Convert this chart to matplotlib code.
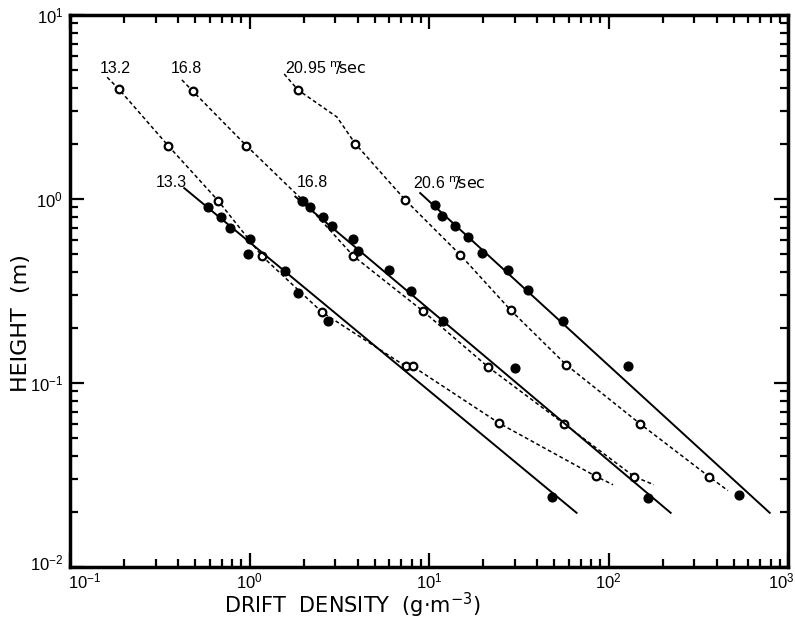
import numpy as np
import matplotlib.pyplot as plt
import matplotlib.transforms as mtransforms
from matplotlib.ticker import LogLocator, NullFormatter

plt.rcParams['font.family'] = ['Liberation Sans Narrow', 'Liberation Sans', 'DejaVu Sans']

# open circles + dashed curves
x_132 = [0.187, 0.352, 0.668, 1.18, 2.53, 7.43, 8.13, 24.7, 85.1]
y_132 = [3.96, 1.95, 0.98, 0.487, 0.243, 0.123, 0.123, 0.0603, 0.0311]
line_132_x = [0.161] + x_132 + [106]
line_132_y = [4.59] + y_132 + [0.028]

x_168o = [0.485, 0.96, 1.99, 3.79, 9.3, 21.4, 56.6, 139]
y_168o = [3.84, 1.95, 0.98, 0.49, 0.245, 0.122, 0.060, 0.031]
line_168o_x = [0.42] + x_168o + [179]
line_168o_y = [4.44] + y_168o + [0.028]

x_2095 = [1.86, 3.88, 7.36, 14.9, 28.6, 57.9, 150, 363]
y_2095 = [3.92, 2.0, 0.99, 0.498, 0.248, 0.126, 0.060, 0.031]
line_2095_x = [1.56, 1.86, 3.07] + x_2095[1:] + [463]
line_2095_y = [4.78, 3.92, 2.79] + y_2095[1:] + [0.026]

# filled circles + fitted straight lines
x_133 = [0.587, 0.696, 0.782, 1.0, 0.98, 1.58, 1.87, 2.75, 48.2]
y_133 = [0.91, 0.794, 0.70, 0.606, 0.503, 0.408, 0.310, 0.217, 0.0241]
fit_133_x = [0.433, 66.4]
fit_133_y = [1.146, 0.0197]

x_168f = [1.95, 2.18, 2.56, 2.88, 3.79, 4.04, 6.0, 7.92, 12.0, 30.0, 166]
y_168f = [0.98, 0.91, 0.803, 0.71, 0.608, 0.519, 0.409, 0.318, 0.218, 0.121, 0.0238]
fit_168f_x = [1.8, 222]
fit_168f_y = [1.03, 0.0197]

x_206 = [10.8, 11.8, 14.0, 16.4, 19.7, 27.7, 35.7, 56.0, 129, 532]
y_206 = [0.922, 0.811, 0.715, 0.618, 0.508, 0.409, 0.321, 0.218, 0.123, 0.0245]
fit_206_x = [8.93, 791]
fit_206_y = [1.077, 0.0197]

fig = plt.figure(figsize=(7.95, 6.19), dpi=100)
ax = fig.add_axes([70/795, 1 - 567/619, 718/795, 552/619])
ax.set_xscale('log')
ax.set_yscale('log')
ax.set_xlim(0.1, 1000)
ax.set_ylim(0.01, 10)

dash = (0, (2.5, 1.8))
for lx, ly in [(line_132_x, line_132_y), (line_168o_x, line_168o_y), (line_2095_x, line_2095_y)]:
    ax.plot(lx, ly, color='black', lw=1.1, linestyle=dash)
for px, py in [(x_132, y_132), (x_168o, y_168o), (x_2095, y_2095)]:
    ax.plot(px, py, 'o', ms=5.5, mfc='white', mec='black', mew=1.6, ls='none')

for lx, ly in [(fit_133_x, fit_133_y), (fit_168f_x, fit_168f_y), (fit_206_x, fit_206_y)]:
    ax.plot(lx, ly, color='black', lw=1.4)
for px, py in [(x_133, y_133), (x_168f, y_168f), (x_206, y_206)]:
    ax.plot(px, py, 'o', ms=6.3, color='black', ls='none')

lab = dict(fontsize=11.5, ha='left', va='center')
ax.text(0.146, 5.15, '13.2', **lab)
ax.text(0.362, 5.15, '16.8', **lab)
ax.text(1.58, 5.15, r'20.95 $^{\rm m}\!\!/\!{\rm sec}$', **lab)
ax.text(0.299, 1.225, '13.3', **lab)
ax.text(1.84, 1.225, '16.8', **lab)
ax.text(8.17, 1.225, r'20.6 $^{\rm m}\!\!/\!{\rm sec}$', **lab)

for s in ax.spines.values():
    s.set_linewidth(2.5)
ax.xaxis.set_major_locator(LogLocator(base=10, numticks=10))
ax.yaxis.set_major_locator(LogLocator(base=10, numticks=10))
ax.xaxis.set_minor_locator(LogLocator(base=10, subs=np.arange(2, 10), numticks=20))
ax.yaxis.set_minor_locator(LogLocator(base=10, subs=np.arange(2, 10), numticks=20))
ax.xaxis.set_minor_formatter(NullFormatter())
ax.yaxis.set_minor_formatter(NullFormatter())
ax.tick_params(which='both', direction='in', top=True, right=True, width=1.6)
ax.tick_params(which='major', length=10, labelsize=12, pad=5)
ax.tick_params(axis='x', which='major', pad=3)
ax.tick_params(which='minor', length=6)

ax.set_xlabel('DRIFT  DENSITY  (g·m$^{-3}$)', fontsize=15, family='DejaVu Sans')
ax.xaxis.set_label_coords(0.393, -0.044)
ax.set_ylabel('HEIGHT  (m)', fontsize=16, family='DejaVu Sans')
ax.yaxis.set_label_coords(-0.054, 0.442)

# nudge the corner tick labels like in the original print
fig.canvas.draw()
for t in ax.get_xticklabels():
    if '{3}' in t.get_text():
        t.set_transform(t.get_transform() + mtransforms.ScaledTranslation(-7/100, 0, fig.dpi_scale_trans))
    if '{-1}' in t.get_text():
        t.set_ha('left')
        t.set_transform(t.get_transform() + mtransforms.ScaledTranslation(-2/100, 0, fig.dpi_scale_trans))
for t in ax.get_yticklabels():
    if '{-2}' in t.get_text():
        t.set_transform(t.get_transform() + mtransforms.ScaledTranslation(0, 5/100, fig.dpi_scale_trans))

fig.savefig('out.png', dpi=100)
